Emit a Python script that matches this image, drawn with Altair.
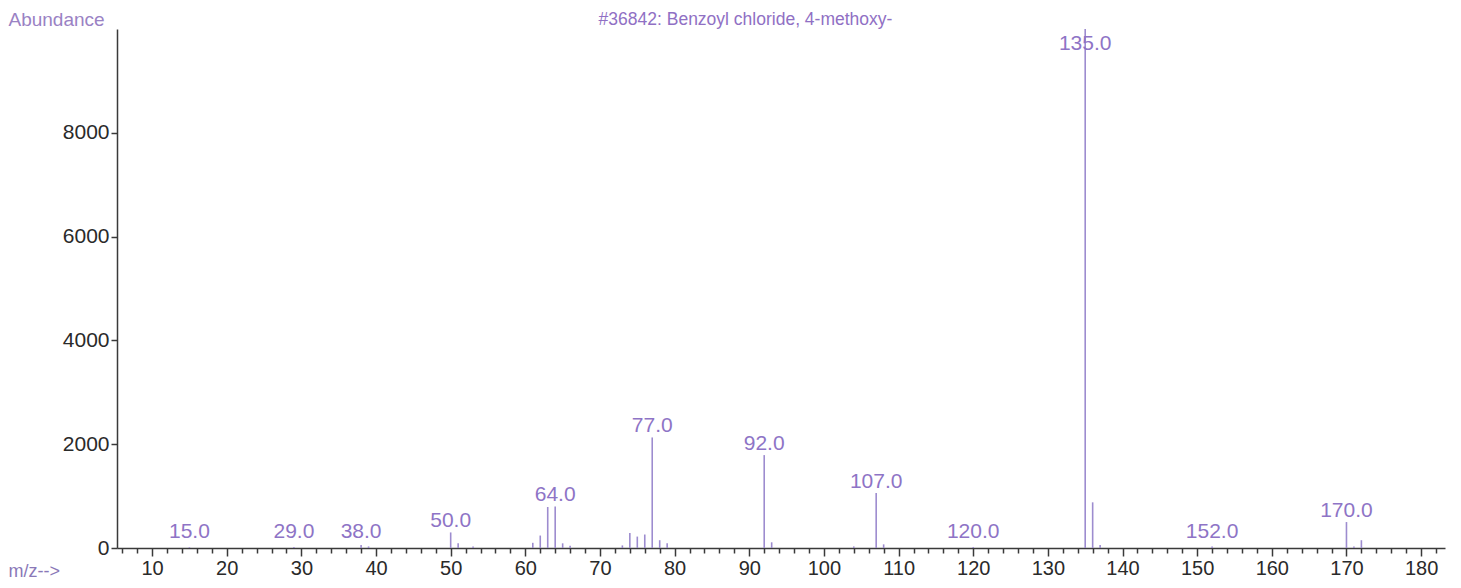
import altair as alt
import pandas as pd

# ---- data ----
mz = [15, 29, 38, 39, 50, 51, 53, 61, 62, 63, 64, 65, 66, 73, 74, 75, 76, 77, 78, 79,
      92, 93, 104, 107, 108, 120, 135, 136, 137, 152, 170, 171, 172]
abundance = [15, 20, 60, 30, 300, 90, 30, 100, 240, 790, 800, 90, 45, 50, 290, 220, 260, 2130, 150, 90,
             1790, 110, 30, 1060, 70, 20, 9999, 880, 60, 30, 500, 30, 150]
label_mz = [15, 29, 38, 50, 64, 77, 92, 107, 120, 135, 152, 170]

x_tick_values = list(range(6, 184, 2))
y_tick_values = [0, 2000, 4000, 6000, 8000]

TITLE = "#36842: Benzoyl chloride, 4-methoxy-"

LINE_COLOR = "#9d8ccf"
LABEL_COLOR = "#8e74c6"
AXIS_COLOR = "#3a3a3a"
FONT = "Liberation Sans"

df = pd.DataFrame({"mz": mz, "abundance": abundance})
labels = df[df["mz"].isin(label_mz)].copy()

xscale = alt.Scale(domain=[5.3, 183.2], nice=False, zero=False)
yscale = alt.Scale(domain=[0, 10000], nice=False)

x_axis = alt.Axis(
    values=x_tick_values,
    labelExpr="datum.value % 10 === 0 ? datum.label : ''",
    tickSize={"expr": "datum.value % 10 === 0 ? 8 : 5"},
    labelOverlap=False,
    labelFlush=False,
    grid=False,
    domainColor=AXIS_COLOR,
    domainWidth=1.5,
    tickColor=AXIS_COLOR,
    tickWidth=1.5,
    labelColor="#2a2a2a",
    labelFont=FONT,
    labelFontSize=20,
    labelPadding=2,
    title="m/z-->",
    titleFont=FONT,
    titleFontSize=18,
    titleFontWeight="normal",
    titleColor="#8a78b8",
    titleX=-109,
    titleY=28,
    titleAlign="left",
    titleAnchor="start",
    titleBaseline="alphabetic",
)

y_axis = alt.Axis(
    values=y_tick_values,
    format="d",
    grid=False,
    domainColor=AXIS_COLOR,
    domainWidth=1.5,
    tickColor=AXIS_COLOR,
    tickWidth=1.5,
    tickSize=6,
    labelPadding=2,
    labelColor="#2a2a2a",
    labelFont=FONT,
    labelFontSize=21,
    title="Abundance",
    titleFont=FONT,
    titleFontSize=19,
    titleFontWeight="normal",
    titleColor="#9a82c4",
    titleAngle=0,
    titleX=-109,
    titleY=-4,
    titleAlign="left",
    titleBaseline="alphabetic",
)

peaks = alt.Chart(df).mark_rule(color=LINE_COLOR, strokeWidth=1.6).encode(
    x=alt.X("mz:Q", scale=xscale, axis=x_axis),
    y=alt.Y("abundance:Q", scale=yscale, axis=y_axis),
    y2=alt.datum(0),
)

top_axis = alt.Axis(
    orient="top",
    labels=False,
    ticks=False,
    domain=False,
    grid=False,
    title=TITLE,
    titleFont=FONT,
    titleFontSize=17.5,
    titleFontWeight="normal",
    titleColor="#9070c4",
    titleX=628,
    titleY=-5,
    titleAlign="center",
    titleBaseline="alphabetic",
)

peak_labels = alt.Chart(labels).transform_calculate(
    ly="clamp(datum.abundance, 100, 9500)"
).mark_text(
    color=LABEL_COLOR, font=FONT, fontSize=21, baseline="alphabetic", align="center", dy=-5
).encode(
    x=alt.X("mz:Q", scale=xscale, axis=top_axis),
    y=alt.Y("ly:Q", scale=yscale, axis=y_axis),
    text=alt.Text("mz:Q", format=".1f"),
)

chart = alt.layer(peaks, peak_labels).resolve_axis(x="independent").properties(
    width=1328,
    height=519,
    autosize=alt.AutoSizeParams(type="none"),
    padding={"left": 109, "top": 21, "right": 6, "bottom": 32},
    background="white",
).configure_view(stroke=None)

chart.save("out.html", embed_options={"renderer": "svg", "actions": False})
